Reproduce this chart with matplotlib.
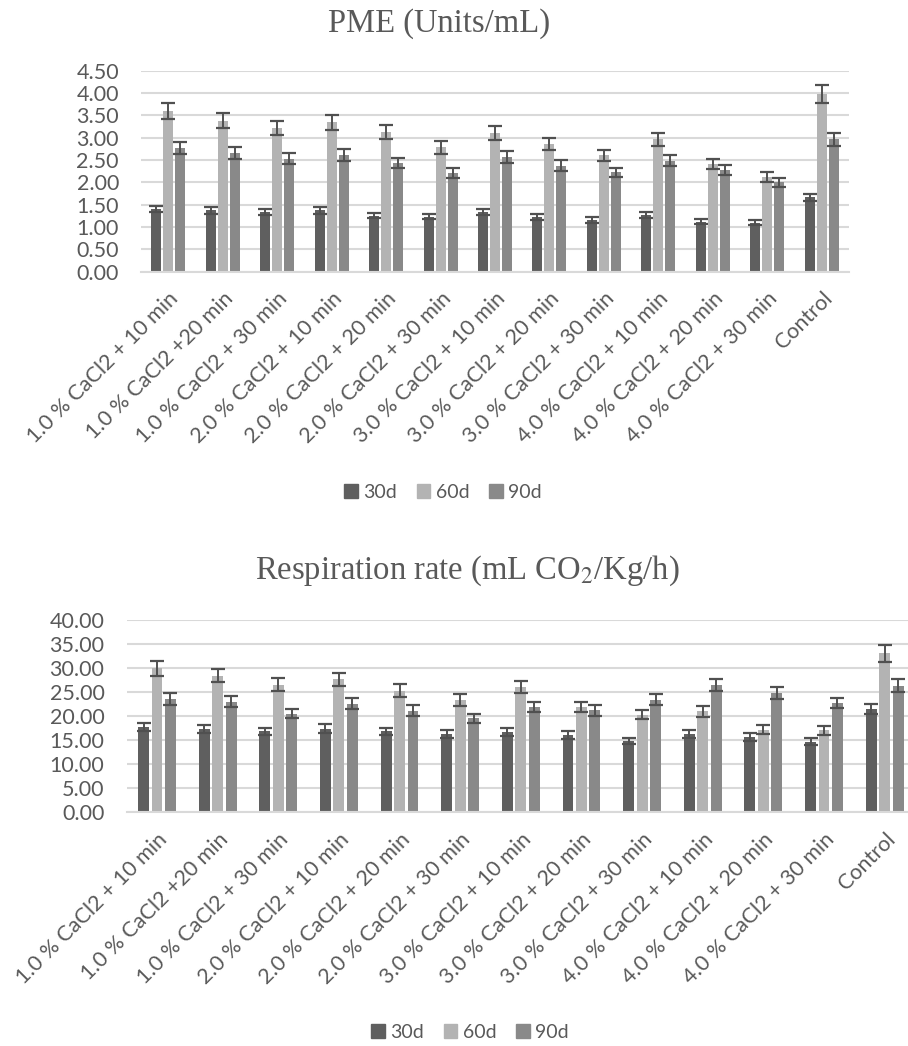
import numpy as np
import matplotlib
matplotlib.use("Agg")
import matplotlib.pyplot as plt
from matplotlib.patches import Patch

# category labels (same for both charts)
labels_top = ["1.0 % CaCl2 + 10 min", "1.0 % CaCl2 +20 min", "1.0 % CaCl2 + 30 min",
              "2.0 % CaCl2 + 10 min", "2.0 % CaCl2 + 20 min", "2.0 % CaCl2 + 30 min",
              "3.0 % CaCl2 + 10 min", "3.0 % CaCl2 + 20 min", "3.0 % CaCl2 + 30 min",
              "4.0 % CaCl2 + 10 min", "4.0 % CaCl2 + 20 min", "4.0 % CaCl2 + 30 min",
              "Control"]
series = ["30d", "60d", "90d"]

# PME (Units/mL)
pme_30 = [1.40, 1.37, 1.34, 1.37, 1.25, 1.23, 1.33, 1.22, 1.16, 1.27, 1.12, 1.10, 1.66]
pme_60 = [3.60, 3.38, 3.21, 3.34, 3.12, 2.78, 3.10, 2.86, 2.60, 2.96, 2.41, 2.11, 3.98]
pme_90 = [2.77, 2.66, 2.53, 2.61, 2.43, 2.20, 2.56, 2.37, 2.22, 2.48, 2.28, 2.00, 2.96]
pme_err_30 = [0.07, 0.07, 0.07, 0.07, 0.06, 0.06, 0.07, 0.06, 0.06, 0.06, 0.06, 0.06, 0.08]
pme_err_60 = [0.18, 0.17, 0.16, 0.17, 0.16, 0.14, 0.16, 0.14, 0.13, 0.15, 0.12, 0.11, 0.20]
pme_err_90 = [0.14, 0.13, 0.13, 0.13, 0.12, 0.11, 0.13, 0.12, 0.11, 0.12, 0.11, 0.10, 0.15]

# Respiration rate (mL CO2/Kg/h)
resp_30 = [17.7, 17.3, 16.8, 17.4, 16.8, 16.3, 16.7, 16.0, 14.8, 16.3, 15.6, 14.7, 21.5]
resp_60 = [29.9, 28.4, 26.5, 27.6, 25.3, 23.3, 26.0, 21.9, 20.3, 21.0, 17.2, 17.0, 33.0]
resp_90 = [23.5, 23.0, 20.5, 22.6, 21.1, 19.5, 21.9, 21.2, 23.4, 26.4, 24.8, 22.7, 26.3]
resp_err_30 = [0.9, 0.9, 0.8, 0.9, 0.8, 0.8, 0.8, 0.8, 0.7, 0.8, 0.8, 0.7, 1.1]
resp_err_60 = [1.5, 1.4, 1.3, 1.4, 1.3, 1.2, 1.3, 1.1, 1.0, 1.1, 0.9, 0.9, 1.7]
resp_err_90 = [1.2, 1.2, 1.0, 1.1, 1.1, 1.0, 1.1, 1.1, 1.2, 1.3, 1.2, 1.1, 1.3]

colors = ["#5f5f5f", "#b3b3b3", "#898989"]
txt = "#595959"
grid = "#d9d9d9"

plt.rcParams["font.family"] = ["Lato", "DejaVu Sans"]
plt.rcParams["mathtext.fontset"] = "stix"

fig = plt.figure(figsize=(9.08, 10.46), dpi=100)


def draw(ax, vals, errs, ymax, step, width, offset):
    x = np.arange(len(labels_top))
    for i, (v, e) in enumerate(zip(vals, errs)):
        ax.bar(x + (i - 1) * offset, v, width=width, color=colors[i], zorder=2)
        ax.errorbar(x + (i - 1) * offset, v, yerr=e, fmt="none", ecolor="#505050",
                    elinewidth=1.4, capsize=5, capthick=1.6, zorder=3)
    ax.set_xlim(-0.5, len(labels_top) - 0.5)
    ax.set_ylim(0, ymax)
    ax.set_yticks(np.arange(0, ymax + step / 2, step))
    ax.yaxis.set_major_formatter(matplotlib.ticker.FormatStrFormatter("%.2f"))
    ax.grid(axis="y", color=grid, linewidth=1.5, zorder=0)
    ax.set_axisbelow(True)
    for s in ["top", "right", "left"]:
        ax.spines[s].set_visible(False)
    ax.spines["bottom"].set_color(grid)
    ax.spines["bottom"].set_linewidth(1.5)
    ax.tick_params(length=0, colors=txt, labelsize=15.5)
    ax.tick_params(axis="y", pad=16)
    ax.set_xticks(x)
    ax.set_xticklabels(labels_top, rotation=45, ha="right", va="top",
                       rotation_mode="anchor")
    ax.tick_params(axis="x", pad=12)


ax1 = fig.add_axes([0.1554, 0.7403, 0.7795, 0.1922])
draw(ax1, [pme_30, pme_60, pme_90], [pme_err_30, pme_err_60, pme_err_90],
     4.5, 0.5, 0.184, 0.22)

ax2 = fig.add_axes([0.1395, 0.2234, 0.8682, 0.1841])
draw(ax2, [resp_30, resp_60, resp_90], [resp_err_30, resp_err_60, resp_err_90],
     40, 5, 0.18, 0.222)

fig.text(439 / 908, 1 - 32 / 1046, "PME (Units/mL)", ha="center", va="baseline",
         fontsize=23.5, color=txt, family="Liberation Serif")
fig.text(467 / 908, 1 - 579 / 1046, "Respiration rate (mL CO$_2$/Kg/h)", ha="center",
         va="baseline", fontsize=23.5, color=txt, family="Liberation Serif")

handles = [Patch(color=c, label=s) for c, s in zip(colors, series)]
for cx, cy in [(443, 492), (470, 1032)]:
    fig.legend(handles=handles, loc="center", bbox_to_anchor=(cx / 908, 1 - cy / 1046),
               ncol=3, frameon=False, fontsize=14, labelcolor=txt,
               handlelength=0.7, handleheight=0.7, handletextpad=0.3,
               columnspacing=1.0, borderpad=0)

fig.savefig("out.png", dpi=100)
